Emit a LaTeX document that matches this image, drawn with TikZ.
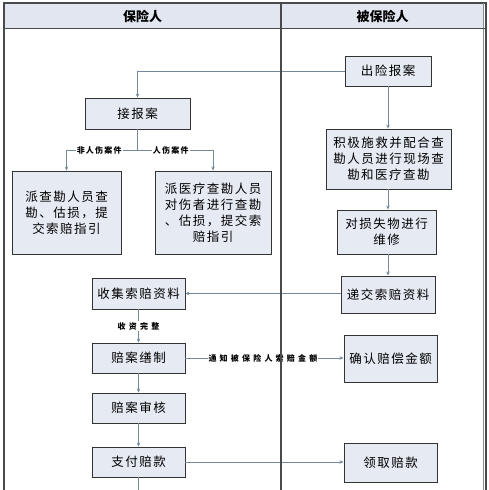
\documentclass[tikz,border=0pt]{standalone}
\usepackage{fontspec}
\usetikzlibrary{arrows.meta}
\newfontfamily\cjk{Noto Sans CJK SC}
\newfontfamily\cjkbox[LetterSpace=12]{Noto Sans CJK SC}
\newfontfamily\cjklblA[LetterSpace=15]{Noto Sans CJK SC}
\newfontfamily\cjklblB[LetterSpace=40]{Noto Sans CJK SC}
\definecolor{boxfill}{HTML}{E6EAF3}
\definecolor{hdrfill}{HTML}{E1E6F0}
\definecolor{connc}{HTML}{74889A}
\definecolor{framec}{HTML}{4A4A4A}
\tikzset{
  bx/.style={draw=black!80, fill=boxfill, line width=0.9pt, inner sep=0pt, align=center,
    font=\cjkbox\fontsize{12.5}{16}\selectfont},
  conn/.style={draw=connc, line width=0.8pt},
  arr/.style={conn, -{Stealth[length=4pt,width=3.5pt]}},
  lblA/.style={fill=white, inner sep=1pt, font=\cjklblA\bfseries\fontsize{8}{9}\selectfont},
  lblB/.style={fill=white, inner sep=1pt, font=\cjklblB\bfseries\fontsize{8}{9}\selectfont},
  hdr/.style={font=\cjk\bfseries\fontsize{13}{15}\selectfont}
}
\begin{document}
\begin{tikzpicture}[x=1pt,y=-1pt]
\useasboundingbox (0,0) rectangle (489,490);
\fill[white] (0,0) rectangle (489,490);
% header
\fill[hdrfill] (4,3) rectangle (484,28);
\node[hdr] (hL) at (142.5,16) {保险人};
\node[hdr] (hR) at (382.5,16) {被保险人};

% boxes
\node[bx, minimum width=86pt, minimum height=30pt] (cx) at (388,71) {出险报案};
\node[bx, minimum width=105pt, minimum height=31pt] (jb) at (137.5,113.5) {接报案};
\node[bx, minimum width=125pt, minimum height=60pt] (jj) at (388.5,159) {积极施救并配合查\\勘人员进行现场查\\勘和医疗查勘};
\node[bx, minimum width=109pt, minimum height=83pt] (p1) at (66.5,212.5) {派查勘人员查\\勘、估损，提\\交索赔指引};
\node[bx, minimum width=116pt, minimum height=83pt] (p2) at (213,212.5) {派医疗查勘人员\\对伤者进行查勘\\、估损，提交索\\赔指引};
\node[bx, minimum width=99pt, minimum height=44pt] (ds) at (386.5,232) {对损失物进行\\维修};
\node[bx, minimum width=94pt, minimum height=37pt] (dj) at (388,294.5) {递交索赔资料};
\node[bx, minimum width=93pt, minimum height=31pt] (sj) at (138.5,293.5) {收集索赔资料};
\node[bx, minimum width=93pt, minimum height=30pt] (pz) at (138.5,358) {赔案缮制};
\node[bx, minimum width=93pt, minimum height=47pt] (qr) at (390.5,358.5) {确认赔偿金额};
\node[bx, minimum width=93pt, minimum height=30pt] (sh) at (138.5,408) {赔案审核};
\node[bx, minimum width=93pt, minimum height=30pt] (zf) at (138.5,462) {支付赔款};
\node[bx, minimum width=93pt, minimum height=39pt] (lq) at (390.5,462.5) {领取赔款};

\coordinate (br) at (137.5,150);
\coordinate (endz) at (138.5,495);

% connectors
\draw[arr] (cx.west) -| (jb.north);
\draw[arr] (cx.south) -- (cx.south |- jj.north);
\draw[conn] (jb.south) -- (br);
\draw[arr] (br) -| node[lblA, pos=0.27] {非人伤案件} (p1.north);
\draw[arr] (br) -| node[lblA, pos=0.22] {人伤案件} (p2.north);
\draw[arr] (cx.south |- jj.south) -- (cx.south |- ds.north);
\draw[arr] (cx.south |- ds.south) -- (cx.south |- dj.north);
\draw[arr] (dj.west |- sj.east) -- (sj.east);
\draw[arr] (sj.south) -- node[lblB] {收资完整} (pz.north);
\draw[arr] (pz.east) -- node[lblB, pos=0.49] {通知被保险人索赔金额} (pz.east -| qr.west);
\draw[arr] (pz.south) -- (sh.north);
\draw[arr] (sh.south) -- (zf.north);
\draw[arr] (zf.east) -- (zf.east -| lq.west);
\draw[conn] (zf.south) -- (endz);

% frame
\draw[framec, line width=1.2pt] (4,495) -- (4,3) -- (486,3) -- (486,495);
\draw[black!45, line width=0.6pt] (483,3) -- (483,495);
\draw[framec, line width=1pt] (4,28) -- (486,28);
\draw[framec, line width=1.3pt] (281,3) -- (281,495);
\end{tikzpicture}
\end{document}
